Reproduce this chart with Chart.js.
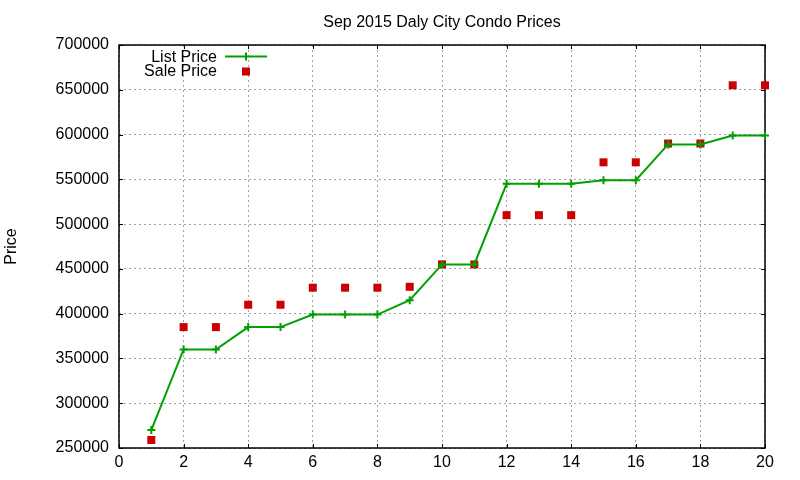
<!DOCTYPE html>
<html>
<head>
<meta charset="utf-8">
<script src="https://cdn.jsdelivr.net/npm/chart.js@4"></script>
<style>
html,body{margin:0;padding:0;background:#fff;}
#wrap{width:800px;height:480px;position:relative;}
</style>
</head>
<body>
<div id="wrap"><canvas id="c"></canvas></div>
<script>
const chartTitle = 'Sep 2015 Daly City Condo Prices';
const yAxisTitle = 'Price';
const listingIndex = [1,2,3,4,5,6,7,8,9,10,11,12,13,14,15,16,17,18,19,20];
const listPrice = [270000,360000,360000,385000,385000,399000,399000,399000,415000,455000,455000,545000,545000,545000,549000,549000,589000,589000,599000,599000];
const salePrice = [259000,385000,385000,410000,410000,429000,429000,429000,430000,455000,455000,510000,510000,510000,569000,569000,590000,590000,655000,655000];
const xTicks = [0,2,4,6,8,10,12,14,16,18,20];
const yTicks = [250000,300000,350000,400000,450000,500000,550000,600000,650000,700000];

const GREEN = '#00a000';
const RED = '#cc0000';
const FONT = 'Liberation Sans, Arial, Helvetica, sans-serif';

const frame = {
  id: 'frame',
  beforeDatasetsDraw(chart) {
    const {ctx, chartArea: a, scales: {x, y}} = chart;
    ctx.save();
    ctx.strokeStyle = '#000';
    ctx.lineWidth = 1;
    ctx.setLineDash([]);
    ctx.beginPath();
    xTicks.forEach(v => {
      const px = Math.round(x.getPixelForValue(v)) + 0.5;
      ctx.moveTo(px, a.bottom); ctx.lineTo(px, a.bottom - 4);
      ctx.moveTo(px, a.top); ctx.lineTo(px, a.top + 4);
    });
    yTicks.forEach(v => {
      const py = Math.round(y.getPixelForValue(v)) + 0.5;
      ctx.moveTo(a.left, py); ctx.lineTo(a.left + 4, py);
      ctx.moveTo(a.right, py); ctx.lineTo(a.right - 4, py);
    });
    ctx.stroke();
    ctx.lineWidth = 1.5;
    ctx.strokeRect(a.left, a.top, a.right - a.left, a.bottom - a.top);
    ctx.restore();
  },
  afterDraw(chart) {
    const {ctx, chartArea: a} = chart;
    const ds = chart.data.datasets;
    ctx.save();
    ctx.font = '16px ' + FONT;
    ctx.fillStyle = '#000';
    // title
    ctx.textAlign = 'center';
    ctx.textBaseline = 'alphabetic';
    ctx.fillText(chartTitle, (a.left + a.right) / 2, 27);
    // legend
    ctx.textAlign = 'right';
    ctx.fillText(ds[0].label, 217, 62);
    ctx.fillText(ds[1].label, 217, 76);
    ctx.strokeStyle = ds[0].borderColor;
    ctx.lineWidth = 2;
    ctx.beginPath();
    ctx.moveTo(225, 56.5); ctx.lineTo(267, 56.5);
    ctx.moveTo(246, 52.5); ctx.lineTo(246, 60.5);
    ctx.stroke();
    ctx.fillStyle = ds[1].backgroundColor;
    ctx.fillRect(242, 67.5, 8, 8);
    ctx.restore();
  }
};

new Chart(document.getElementById('c'), {
  type: 'scatter',
  data: {
    datasets: [
      {
        label: 'List Price',
        data: listingIndex.map((v, i) => ({x: v, y: listPrice[i]})),
        showLine: true,
        borderColor: GREEN,
        backgroundColor: GREEN,
        borderWidth: 2,
        pointStyle: 'cross',
        pointRadius: 4,
        pointBorderWidth: 2,
        pointBorderColor: GREEN,
        tension: 0,
        clip: false
      },
      {
        label: 'Sale Price',
        data: listingIndex.map((v, i) => ({x: v, y: salePrice[i]})),
        showLine: false,
        borderColor: RED,
        backgroundColor: RED,
        pointStyle: 'rect',
        pointRadius: 5.66,
        pointBorderWidth: 0,
        clip: false
      }
    ]
  },
  plugins: [frame],
  options: {
    responsive: true,
    maintainAspectRatio: false,
    animation: false,
    layout: {padding: {left: 0, right: 35, top: 45, bottom: 0}},
    plugins: {
      legend: {display: false},
      tooltip: {enabled: false},
      title: {display: false}
    },
    scales: {
      x: {
        type: 'linear',
        min: 0, max: 20,
        afterBuildTicks: s => { s.ticks = xTicks.map(v => ({value: v})); },
        afterFit: s => { s.height = 32; },
        ticks: {
          color: '#000',
          font: {family: FONT, size: 16},
          padding: 5,
          maxRotation: 0,
          autoSkip: false,
          callback: v => String(v)
        },
        grid: {color: '#a0a0a0', lineWidth: 1, drawTicks: false},
        border: {display: false, dash: [2, 3]}
      },
      y: {
        type: 'linear',
        min: 250000, max: 700000,
        afterBuildTicks: s => { s.ticks = yTicks.map(v => ({value: v})); },
        afterFit: s => { s.width = 119; },
        ticks: {
          color: '#000',
          font: {family: FONT, size: 16},
          padding: 10,
          autoSkip: false,
          callback: v => String(v)
        },
        title: {
          display: true,
          text: yAxisTitle,
          color: '#000',
          font: {family: FONT, size: 16},
          padding: {top: 2, bottom: 0}
        },
        grid: {color: '#a0a0a0', lineWidth: 1, drawTicks: false},
        border: {display: false, dash: [2, 3]}
      }
    }
  }
});
</script>
</body>
</html>
